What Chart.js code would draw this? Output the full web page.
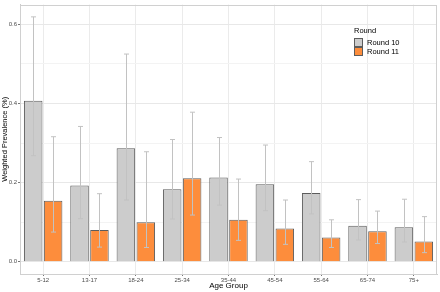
<!DOCTYPE html>
<html>
<head>
<meta charset="utf-8">
<script src="https://cdn.jsdelivr.net/npm/chart.js@4.4.1/dist/chart.umd.min.js"></script>
<style>
  html, body { margin: 0; padding: 0; background: #ffffff; }
  canvas { display: block; }
</style>
</head>
<body>
<canvas id="myChart" width="440" height="292"></canvas>
<script>
// Dados
var faixas = ['5-12', '13-17', '18-24', '25-34', '35-44', '45-54', '55-64', '65-74', '75+'];
var round10 = [0.407, 0.193, 0.287, 0.183, 0.213, 0.196, 0.174, 0.091, 0.087];
var round10Baixo = [0.268, 0.109, 0.156, 0.108, 0.143, 0.129, 0.121, 0.055, 0.050];
var round10Alto = [0.619, 0.342, 0.525, 0.309, 0.314, 0.295, 0.253, 0.157, 0.158];
var round11 = [0.154, 0.080, 0.100, 0.211, 0.106, 0.084, 0.061, 0.077, 0.051];
var round11Baixo = [0.075, 0.037, 0.036, 0.118, 0.054, 0.044, 0.036, 0.046, 0.023];
var round11Alto = [0.316, 0.172, 0.278, 0.378, 0.209, 0.156, 0.106, 0.128, 0.114];
var ticksY = [0, 0.1, 0.2, 0.3, 0.4, 0.5, 0.6];
var rotulosY = { '0': '0.0', '0.2': '0.2', '0.4': '0.4', '0.6': '0.6' };

var fonte = "'Liberation Sans', Arial, sans-serif";

// Plugin para as barras de erro
var barrasErro = {
    id: 'barrasErro',
    afterDatasetsDraw: function(chart) {
        var ctx = chart.ctx;
        var y = chart.scales.y;
        ctx.save();
        ctx.strokeStyle = '#c2c2c2';
        ctx.lineWidth = 1;
        chart.data.datasets.forEach(function(ds, i) {
            var meta = chart.getDatasetMeta(i);
            meta.data.forEach(function(bar, j) {
                var x = Math.round(bar.x) + 0.5;
                var yLo = y.getPixelForValue(ds.baixo[j]);
                var yHi = y.getPixelForValue(ds.alto[j]);
                ctx.beginPath();
                ctx.moveTo(x, yLo);
                ctx.lineTo(x, yHi);
                ctx.moveTo(x - 2.5, yLo);
                ctx.lineTo(x + 2.5, yLo);
                ctx.moveTo(x - 2.5, yHi);
                ctx.lineTo(x + 2.5, yHi);
                ctx.stroke();
            });
        });
        ctx.restore();
    }
};

// Plugin para a borda do painel e a legenda interna
var legendaInterna = {
    id: 'legendaInterna',
    afterDraw: function(chart) {
        var ctx = chart.ctx;
        var a = chart.chartArea;
        ctx.save();
        ctx.strokeStyle = '#d0d0d0';
        ctx.lineWidth = 1;
        ctx.strokeRect(Math.round(a.left) + 0.5, Math.round(a.top) + 0.5,
            Math.round(a.right - a.left) - 1, Math.round(a.bottom - a.top));

        var x0 = 354, y0 = 31;
        ctx.font = '7.5px ' + fonte;
        ctx.textBaseline = 'middle';
        ctx.fillStyle = '#000000';
        ctx.fillText('Round', x0, y0);
        chart.data.datasets.forEach(function(ds, i) {
            var yy = y0 + 7 + i * 9;
            ctx.fillStyle = ds.backgroundColor;
            ctx.fillRect(x0 + 0.5, yy + 0.5, 8, 8);
            ctx.strokeStyle = ds.borderColor;
            ctx.lineWidth = 1;
            ctx.strokeRect(x0 + 0.5, yy + 0.5, 8, 8);
            ctx.fillStyle = '#000000';
            ctx.fillText(ds.label, x0 + 13, yy + 4.5);
        });
        ctx.restore();
    }
};

var ctx = document.getElementById('myChart').getContext('2d');
var myChart = new Chart(ctx, {
    type: 'bar',
    data: {
        labels: faixas,
        datasets: [{
            label: 'Round 10',
            data: round10,
            baixo: round10Baixo,
            alto: round10Alto,
            backgroundColor: '#cccccc',
            borderColor: '#5c5c5c',
            borderWidth: 1,
            categoryPercentage: 0.86,
            barPercentage: 0.93
        }, {
            label: 'Round 11',
            data: round11,
            baixo: round11Baixo,
            alto: round11Alto,
            backgroundColor: '#fd8d3c',
            borderColor: '#5c5c5c',
            borderWidth: 1,
            categoryPercentage: 0.86,
            barPercentage: 0.93
        }]
    },
    options: {
        responsive: false,
        animation: false,
        layout: { padding: { top: 1, right: 3, left: 0, bottom: 0 } },
        plugins: {
            legend: { display: false },
            tooltip: { enabled: false }
        },
        scales: {
            x: {
                offset: true,
                grid: {
                    offset: false,
                    color: '#ebebeb',
                    tickLength: 2,
                    drawTicks: true,
                    tickColor: '#777777'
                },
                border: { display: true, color: '#cccccc' },
                ticks: {
                    font: { family: fonte, size: 6 },
                    color: '#4d4d4d',
                    padding: 1,
                    maxRotation: 0,
                    autoSkip: false
                },
                title: {
                    display: true,
                    text: 'Age Group',
                    font: { family: fonte, size: 8 },
                    color: '#000000',
                    padding: { top: 0, bottom: 1 }
                },
                afterFit: function(scale) { scale.height = 18; }
            },
            y: {
                min: -0.031,
                max: 0.65,
                afterBuildTicks: function(scale) {
                    scale.ticks = ticksY.map(function(v) { return { value: v }; });
                },
                grid: {
                    color: function(c) {
                        var v = Math.round(c.tick.value * 10);
                        return v % 2 === 0 ? '#e8e8e8' : '#f3f3f3';
                    },
                    tickLength: 2,
                    tickColor: function(c) {
                        var v = Math.round(c.tick.value * 10);
                        return v % 2 === 0 ? '#777777' : 'rgba(0,0,0,0)';
                    }
                },
                border: { display: true, color: '#cccccc' },
                ticks: {
                    font: { family: fonte, size: 6 },
                    color: '#4d4d4d',
                    padding: 1,
                    callback: function(value) {
                        var k = String(Math.round(value * 10) / 10);
                        return rotulosY[k] || '';
                    }
                },
                title: {
                    display: true,
                    text: 'Weighted Prevalence (%)',
                    font: { family: fonte, size: 7.5 },
                    color: '#000000',
                    padding: { top: 0, bottom: 0 }
                },
                afterFit: function(scale) { scale.width = 20; }
            }
        }
    },
    plugins: [barrasErro, legendaInterna]
});
</script>
</body>
</html>
